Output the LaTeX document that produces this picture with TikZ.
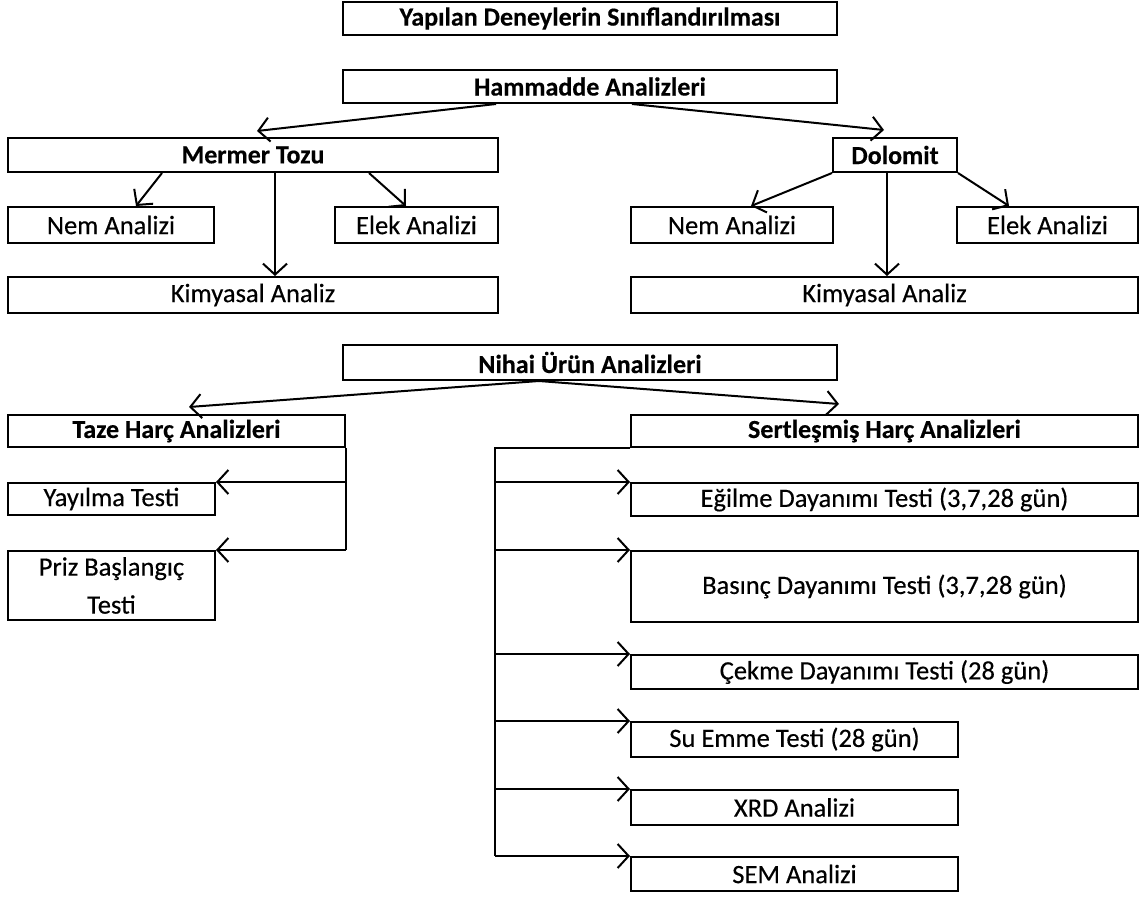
\documentclass[tikz,border=0pt]{standalone}
\usepackage{fontspec}
\setmainfont{Carlito}[FakeBold=0]
\newfontfamily\heavyreg{Carlito}[FakeBold=0.35]
\newfontfamily\heavybold{Carlito Bold}[FakeBold=0.3]
\usetikzlibrary{arrows.meta,calc}
\begin{document}
\begin{tikzpicture}[x=1pt,y=-1pt,
  box/.style={draw, line width=2pt, inner sep=0pt, align=center, font=\fontsize{26.5}{38}\heavyreg},
  hbox/.style={box, font=\fontsize{26}{38}\heavybold},
  arr/.style={line width=2pt, -{Straight Barb[length=11pt,width=24pt]}},
  ln/.style={line width=2pt}]
\fill[white] (0,0) rectangle (1141,897);
\useasboundingbox (0,0) rectangle (1141,897);
% top
\node[hbox, minimum width=494pt, minimum height=33pt] (title) at (590,18.5) {Yapılan Deneylerin Sınıflandırılması};
\node[hbox, minimum width=494pt, minimum height=33pt] (ham) at (590,86.5) {Hammadde Analizleri};
\node[hbox, minimum width=490pt, minimum height=34pt] (mer) at (253,155) {Mermer Tozu};
\node[hbox, minimum width=124pt, minimum height=34pt] (dol) at (895,155) {Dolomit};
\node[box, minimum width=206pt, minimum height=36pt] (neml) at (111,225) {Nem Analizi};
\node[box, minimum width=163pt, minimum height=36pt] (elekl) at (416.5,225) {Elek Analizi};
\node[box, minimum width=490pt, minimum height=36pt] (kiml) at (253,295) {Kimyasal Analiz};
\node[box, minimum width=202pt, minimum height=36pt] (nemr) at (732,225) {Nem Analizi};
\node[box, minimum width=181pt, minimum height=36pt] (elekr) at (1047.5,225) {Elek Analizi};
\node[box, minimum width=507pt, minimum height=36pt] (kimr) at (884.5,295) {Kimyasal Analiz};
% bottom
\node[hbox, minimum width=494pt, minimum height=35pt] (nihai) at (590,362.5) {Nihai Ürün Analizleri};
\node[hbox, minimum width=337pt, minimum height=32pt] (taze) at (176.5,431) {Taze Harç Analizleri};
\node[box, minimum width=207pt, minimum height=32pt] (yay) at (111.5,499) {Yayılma Testi};
\node[box, minimum width=207pt, minimum height=69pt] (priz) at (111.5,585.5) {Priz Başlangıç\\Testi};
\node[hbox, minimum width=507pt, minimum height=32pt] (sert) at (884.5,431) {Sertleşmiş Harç Analizleri};
\node[box, minimum width=507pt, minimum height=33pt] (egil) at (884.5,499.5) {Eğilme Dayanımı Testi (3,7,28 gün)};
\node[box, minimum width=507pt, minimum height=71pt] (bas) at (884.5,586.5) {Basınç Dayanımı Testi (3,7,28 gün)};
\node[box, minimum width=507pt, minimum height=34pt] (cek) at (884.5,672) {Çekme Dayanımı Testi (28 gün)};
\node[box, minimum width=327pt, minimum height=35pt] (su) at (794.5,739.5) {Su Emme Testi (28 gün)};
\node[box, minimum width=327pt, minimum height=35pt] (xrd) at (794.5,807.5) {XRD Analizi};
\node[box, minimum width=327pt, minimum height=34pt] (sem) at (794.5,874) {SEM Analizi};
% connectors top
\draw[arr] ($(ham.south west)+(154,0)$) -- ($(mer.north west)+(250,-6)$);
\draw[arr] ($(ham.south west)+(290,0)$) -- ($(dol.north west)+(52,-7)$);
\draw[arr] ($(mer.south west)+(155,0)$) -- ($(neml.north west)+(129,0)$);
\draw[arr] ($(mer.south west)+(268,0)$) -- ($(kiml.north west)+(268,0)$);
\draw[arr] ($(mer.south west)+(362,0)$) -- ($(elekl.north west)+(72,0)$);
\draw[arr] (dol.south west) -- ($(nemr.north west)+(121,0)$);
\draw[arr] ($(dol.south west)+(55,0)$) -- ($(kimr.north west)+(257,0)$);
\draw[arr] (dol.south east) -- ($(elekr.north west)+(53,0)$);
% connectors bottom
\draw[arr] ($(nihai.south west)+(197,0)$) -- ($(taze.north west)+(182,-7)$);
\draw[arr] ($(nihai.south west)+(197,0)$) -- ($(sert.north west)+(209,-10)$);
\draw[ln] (taze.south east) -- (taze.south east |- priz.north east);
\draw[arr] (taze.south east |- yay.north east) -- (yay.north east);
\draw[arr] (taze.south east |- priz.north east) -- (priz.north east);
\coordinate (sb) at ($(sert.south west)+(-135,0)$);
\draw[ln] (sert.south west) -- (sb) -- (sb |- sem.north west);
\foreach \n in {egil,bas,cek,su,xrd,sem}
  \draw[arr] (sb |- \n.north west) -- (\n.north west);
\end{tikzpicture}
\end{document}
